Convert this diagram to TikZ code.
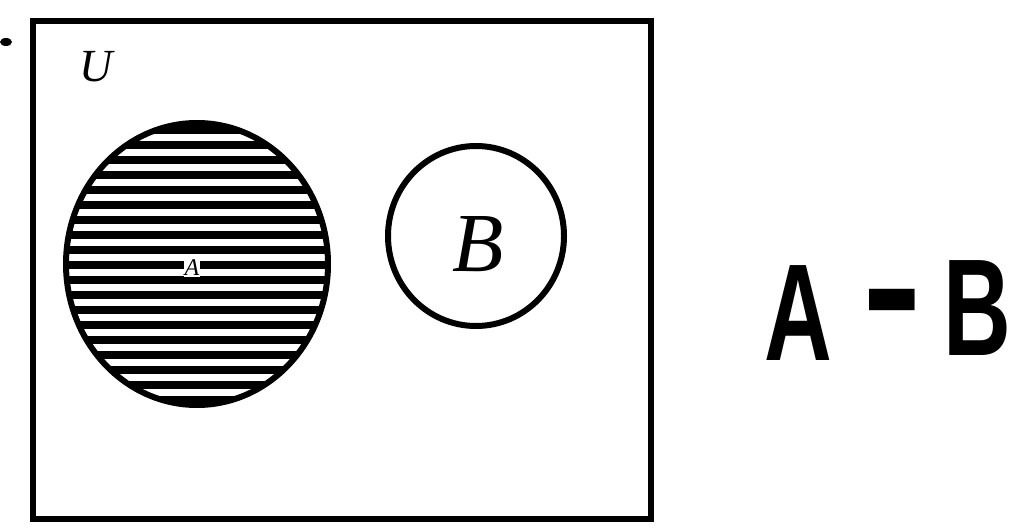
\documentclass[tikz,border=0pt]{standalone}
\usepackage{fontspec}
\setmainfont{Liberation Serif}
\newfontfamily\handfont{Liberation Sans}
\begin{document}
\begin{tikzpicture}[x=1pt,y=-1pt,
  frame/.style={line width=6pt,draw=black},
  setcircle/.style={line width=6pt,draw=black},
  hatch/.style={line width=8pt,black},
  setlabel/.style={font=\itshape\fontsize{#1}{#1}\selectfont,inner sep=0pt},
  biglabel/.style={font=\handfont\bfseries\fontsize{138}{138}\selectfont,inner sep=0pt,anchor=base}]
\useasboundingbox (0,0) rectangle (1019,529);
% stray dot
\fill (6,42) ellipse (6 and 4);
% universe
\draw[frame] (33,21) rectangle (651,519);
\node[setlabel=46] (U) at (96,67) {U};
% set A, hatched
\begin{scope}
  \clip (197,264) ellipse (131 and 141);
  \foreach \yy in {130,145,...,400} {
    \draw[hatch] (60,\yy) -- (335,\yy);
  }
\end{scope}
\draw[setcircle] (197,264) ellipse (131 and 141);
\node[fill=white,inner sep=1pt,font=\itshape\fontsize{24}{24}\selectfont] (A) at (192,268) {A};
% set B
\draw[setcircle] (476,236) ellipse (88 and 90);
\node[setlabel=84] (B) at (478,244) {B};
% caption
\node[biglabel] (capA) at (798,360) {\scalebox{0.68}[1]{A}};
\node[biglabel] (capM) at (892,346) {\scalebox{1.3}[1.3]{-}};
\node[biglabel] (capB) at (977,355) {\scalebox{0.68}[1]{B}};
\end{tikzpicture}
\end{document}
